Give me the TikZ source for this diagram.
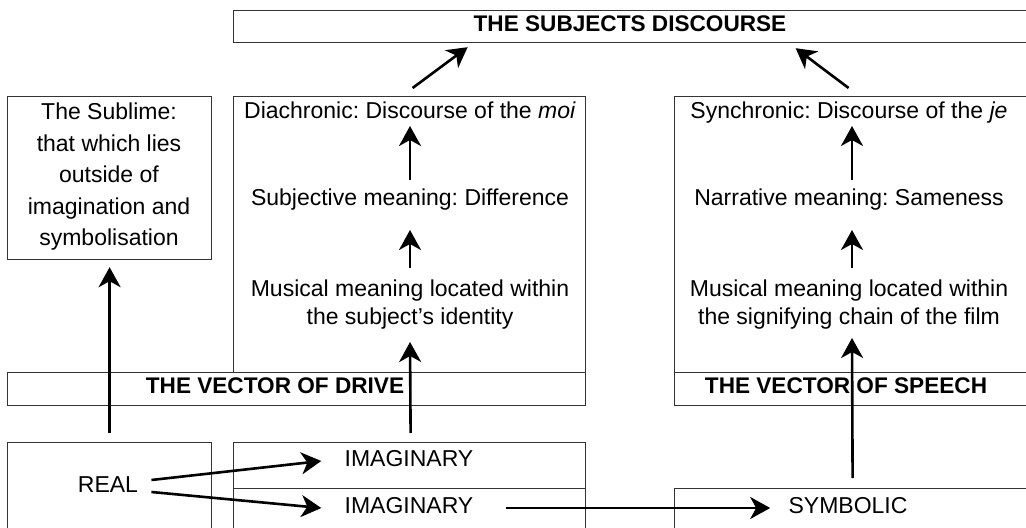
\documentclass[tikz,border=0pt]{standalone}
\usepackage{fontspec}
\setmainfont{Liberation Sans}
\usetikzlibrary{arrows.meta, positioning, calc}
\frenchspacing

\begin{document}
\begin{tikzpicture}[x=0.5pt,y=-0.5pt,>={Stealth[length=10pt,width=11pt,inset=3pt]},font=\fontsize{11.5}{14}\selectfont]
\tikzset{
  frame/.style={draw=black!80,line width=0.6pt,rectangle,inner sep=0pt,anchor=north west},
  txt/.style={inner sep=0pt,text height=8pt,text depth=2.2pt},
  multi/.style={inner sep=0pt,align=center},
  head/.style={txt,font=\fontsize{11.3}{14}\selectfont\bfseries},
  flow/.style={->,line width=1.3pt}
}
\useasboundingbox (0,0) rectangle (1026,528);
\clip (0,0) rectangle (1026,528);

% boxes
\node[frame,minimum width=403.5pt,minimum height=16pt] (subj) at (233,10) {};
\node[frame,minimum width=102pt,minimum height=81.5pt] (sublime) at (7,96) {};
\node[frame,minimum width=176pt,minimum height=138pt] (dia) at (233,96) {};
\node[frame,minimum width=183pt,minimum height=138pt] (syn) at (674,96) {};
\node[frame,minimum width=289pt,minimum height=16.5pt] (drive) at (7,372) {};
\node[frame,minimum width=183pt,minimum height=16.5pt] (speech) at (674,372) {};
\node[frame,minimum width=102pt,minimum height=59pt] (real) at (7,442) {};
\node[frame,minimum width=176pt,minimum height=23pt] (imtop) at (233,442) {};
\node[frame,minimum width=176pt,minimum height=36pt] (imbot) at (233,488) {};
\node[frame,minimum width=183pt,minimum height=36pt] (sym) at (674,488) {};

% texts
\node[head] (subjtxt) at (630,26) {THE SUBJECTS DISCOURSE};
\node[multi,font=\fontsize{11.5}{15.75}\selectfont] (subltxt) at (109,177)
  {The Sublime:\\that which lies\\outside of\\imagination and\\symbolisation};
\node[txt] (dia1) at (410,113) {Diachronic: Discourse of the \textit{moi}};
\node[txt] (dia2) at (410,200) {Subjective meaning: Difference};
\node[multi] (dia3) at (410,305) {Musical meaning located within\\the subject’s identity};
\node[txt] (syn1) at (849,113) {Synchronic: Discourse of the \textit{je}};
\node[txt] (syn2) at (849,200) {Narrative meaning: Sameness};
\node[multi] (syn3) at (849,305) {Musical meaning located within\\the signifying chain of the film};
\node[head] (drivetxt) at (275,388) {THE VECTOR OF DRIVE};
\node[head] (speechtxt) at (846,388) {THE VECTOR OF SPEECH};
\node[txt] (realtxt) at (108,487) {REAL};
\node[txt] (im1) at (409,461) {IMAGINARY};
\node[txt] (im2) at (409,508) {IMAGINARY};
\node[txt] (symtxt) at (848,508) {SYMBOLIC};

% arrows into the discourse
\draw[flow] ([xshift=1.5pt,yshift=4pt]dia.north) -- ([xshift=-84.75pt,yshift=-2pt]subj.south);
\draw[flow] ([xshift=-4.5pt,yshift=4pt]syn.north) -- ([xshift=79.25pt,yshift=-2.5pt]subj.south);

% vertical chains
\draw[flow] ([yshift=10pt]dia2.center) -- ([yshift=-6.5pt]dia1.center);
\draw[flow] ([yshift=18.5pt]dia3.center) -- ([yshift=-15pt]dia2.center);
\draw[flow] ([xshift=1.5pt,yshift=10pt]syn2.center) -- ([xshift=1.5pt,yshift=-6.5pt]syn1.center);
\draw[flow] ([xshift=1.5pt,yshift=18.5pt]syn3.center) -- ([xshift=1.5pt,yshift=-15pt]syn2.center);
\draw[flow] ([xshift=0.5pt,yshift=4.5pt]imtop.north) -- ([yshift=-18.5pt]dia3.center);
\draw[flow] ([yshift=4.5pt]real.north) -- ([yshift=-3.5pt]sublime.south);
\draw[flow] ([xshift=-2.5pt,yshift=5pt]sym.north) -- ([xshift=1.5pt,yshift=-16.5pt]syn3.center);

% real, imaginary, symbolic
\draw[flow] ([xshift=6.5pt,yshift=3.5pt]realtxt.east) -- ([xshift=-11.5pt]im1.west);
\draw[flow] ([xshift=6.5pt,yshift=-2.5pt]realtxt.east) -- ([xshift=-11.5pt]im2.west);
\draw[flow] ([xshift=16pt]im2.east) -- ([xshift=-9pt]symtxt.west);
\end{tikzpicture}
\end{document}
